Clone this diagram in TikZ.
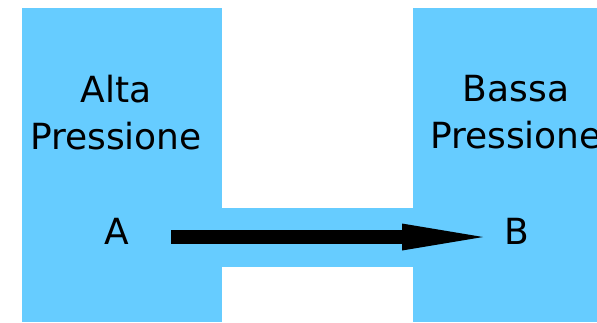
\documentclass[tikz,border=0pt]{standalone}
\usepackage{fontspec}
\setmainfont{DejaVu Sans}
\usetikzlibrary{arrows.meta}
\definecolor{tank}{HTML}{66CCFF}
\tikzset{
  vessel/.style={fill=tank, draw=none},
  label/.style={inner sep=0pt, font=\fontsize{36}{47}\selectfont, align=center},
  flow/.style={line width=14pt, -{Triangle[length=81pt,width=27pt,line width=0pt]}}
}
\begin{document}
\begin{tikzpicture}[x=1pt,y=-1pt]
  \clip (0,0) rectangle (597,322);
  % two reservoirs joined by a channel
  \fill[vessel] (22,8) rectangle (222,322);
  \fill[vessel] (413,8) rectangle (640,322);
  \fill[vessel] (221,207.5) rectangle (414,266.5);
  % labels
  \node[label, anchor=north] (hi) at (116,75) {Alta\\Pressione};
  \node[label, anchor=north] (lo) at (516,75) {Bassa\\Pressione};
  \node[label] (A) at (117,231) {A};
  \node[label] (B) at (517,231) {B};
  % flow from high to low pressure
  \coordinate (start) at ([xshift=54pt,yshift=-6pt]A.center);
  \coordinate (end) at ([xshift=-34pt,yshift=-6pt]B.center);
  \draw[flow] (start) -- (end);
\end{tikzpicture}
\end{document}
